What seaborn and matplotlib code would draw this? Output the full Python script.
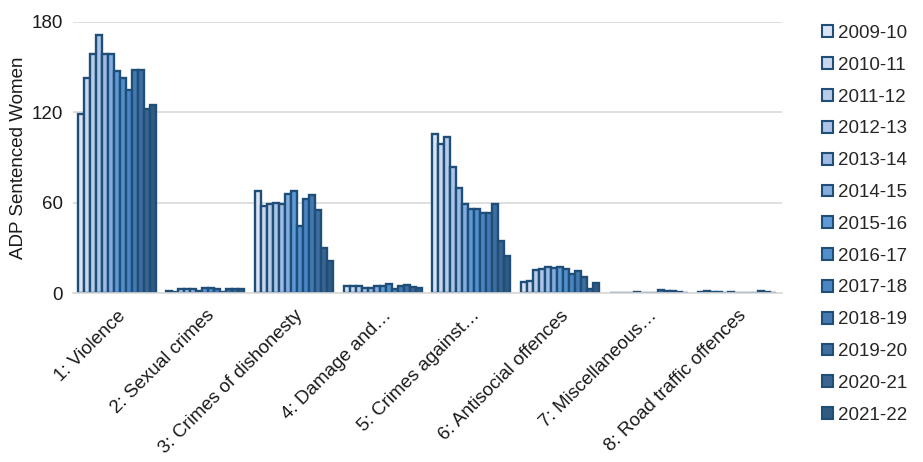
import matplotlib
matplotlib.use("Agg")
import matplotlib.pyplot as plt
from matplotlib.patches import Patch
import seaborn as sns
import pandas as pd

categories = ["1: Violence", "2: Sexual crimes", "3: Crimes of dishonesty",
              "4: Damage and\u2026", "5: Crimes against\u2026", "6: Antisocial offences",
              "7: Miscellaneous\u2026", "8: Road traffic offences"]
years = ["2009-10", "2010-11", "2011-12", "2012-13", "2013-14", "2014-15", "2015-16",
         "2016-17", "2017-18", "2018-19", "2019-20", "2020-21", "2021-22"]

violence = [118.5, 142.5, 158.4, 171.0, 158.4, 158.8, 147.0, 142.5, 135.0, 148.0, 148.0, 122.0, 124.7]
sexual = [1.8, 0.9, 3.1, 2.6, 2.6, 1.3, 3.7, 3.3, 2.6, 0.9, 2.6, 2.6, 2.6]
dishonesty = [67.8, 58.0, 59.0, 60.0, 59.4, 66.0, 67.8, 44.8, 62.5, 65.0, 55.2, 30.2, 21.6]
damage = [4.9, 4.9, 4.9, 3.8, 3.3, 4.9, 4.9, 6.2, 3.1, 5.1, 5.7, 4.4, 3.8]
against = [105.7, 99.1, 103.8, 83.9, 70.0, 59.4, 56.1, 56.1, 53.0, 53.0, 59.4, 34.9, 24.9]
antisocial = [7.7, 8.4, 15.5, 15.9, 17.2, 16.8, 17.2, 16.3, 13.0, 15.0, 10.6, 2.9, 7.1]
misc = [0.2, 0.5, 0.5, 0.2, 1.0, 0.1, 0.1, 0.5, 2.2, 1.2, 1.2, 1.1, 0.1]
road = [1.0, 1.7, 0.6, 0.6, 0.1, 0.8, 0.1, 0.5, 0.5, 0.5, 1.8, 0.6, 0.1]

series = [violence, sexual, dishonesty, damage, against, antisocial, misc, road]
rows = []
for cat, vals in zip(categories, series):
    for yr, v in zip(years, vals):
        rows.append({"Category": cat, "Year": yr, "Value": v})
df = pd.DataFrame(rows)

palette = ["#dae3f3", "#c9d8ef", "#b8cde9", "#abc4e7", "#9dbbe4", "#84acdf",
           "#5d9ad6", "#5190cc", "#4b86c4", "#4479b2", "#3e6ea0", "#3a6590", "#2f5b82"]
edge = "#1f4e79"
fs = 13.5

sns.set_theme(style="white")
plt.rcParams["font.family"] = ["Liberation Sans", "DejaVu Sans"]

fig = plt.figure(figsize=(9.23, 4.62), dpi=100)
ax = fig.add_axes([72.5 / 923, 1 - 293.3 / 462, 709 / 923, (293.3 - 21.7) / 462])

sns.barplot(data=df, x="Category", y="Value", hue="Year", order=categories,
            hue_order=years, palette=palette, width=0.88, edgecolor=edge,
            linewidth=1.7, saturation=1, ax=ax, legend=False, errorbar=None)

ax.set_ylim(0, 180)
ax.set_xlim(-0.5, 7.5)
ax.set_yticks([0, 60, 120, 180])
ax.yaxis.grid(True, color="#d9d9d9", linewidth=1.2)
ax.set_axisbelow(True)
for s in ["top", "right", "left"]:
    ax.spines[s].set_visible(False)
ax.spines["bottom"].set_color("#d9d9d9")
ax.spines["bottom"].set_linewidth(1.2)
ax.tick_params(axis="y", length=0, labelsize=fs, labelcolor="#1a1a1a", pad=7)
ax.tick_params(axis="x", length=0, labelsize=fs, labelcolor="#1a1a1a", pad=10)
ax.set_xticks(range(len(categories)))
ax.set_xticklabels(categories, rotation=45, ha="right", rotation_mode="anchor")
ax.set_xlabel("")
ax.set_ylabel("ADP Sentenced Women", fontsize=fs, color="#1a1a1a", labelpad=3)

handles = [Patch(facecolor=c, edgecolor=edge, linewidth=1.5, label=y)
           for c, y in zip(palette, years)]
fig.legend(handles=handles, loc="upper left", bbox_to_anchor=(822 / 923, 1 - 25 / 462),
           frameon=False, fontsize=fs, handlelength=0.6, handleheight=0.6,
           handletextpad=0.25, labelspacing=0.79, borderaxespad=0, borderpad=0)

fig.savefig("out.png", dpi=100)
